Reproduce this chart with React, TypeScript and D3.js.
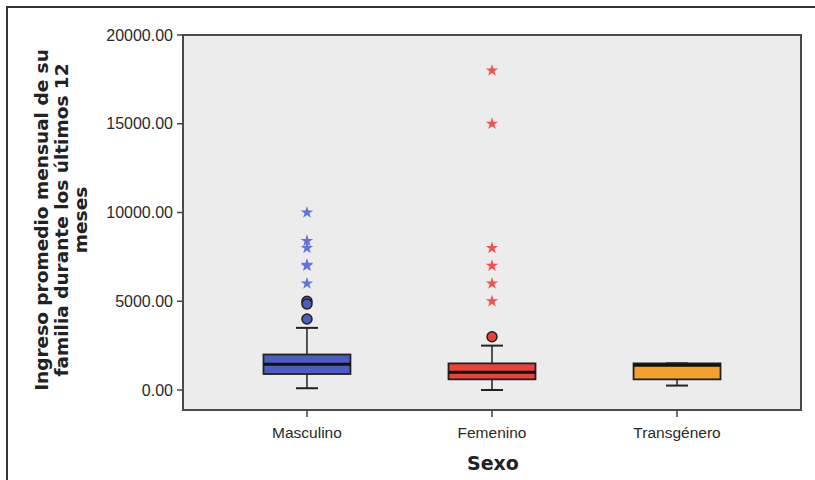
import React from "react";
import * as d3 from "d3";

const categories = ["Masculino", "Femenino", "Transgénero"];
const q1 = [900, 600, 600];
const median = [1450, 1000, 1400];
const q3 = [2000, 1500, 1500];
const whiskerLow = [100, 0, 250];
const whiskerHigh = [3500, 2500, 1500];
const circleOutliers = [[5000, 4850, 4000], [3000], []];
const starOutliers = [[10000, 8400, 8000, 7000, 7050, 6000], [18000, 15000, 8000, 7000, 6000, 5000], []];
const boxColors = ["#4d5cbf", "#e8423a", "#f4a030"];
const starColors = ["#6074d6", "#f05252", "#f4a030"];
const yTicks = [0, 5000, 10000, 15000, 20000];

const W = 815, H = 480;
const left = 183, right = 801, top = 35, bottom = 410;

export default function App() {
  const y = d3.scaleLinear().domain([0, 20000]).range([390, 35]);
  const x = d3.scalePoint<string>().domain(categories).range([left, right]).padding(0.67);
  const step = x.step();
  const bw = step * 0.47;
  const capW = 22;
  const star = d3.symbol().type(d3.symbolStar).size(48)()!;
  const tickFont = "'Liberation Sans', Arial, sans-serif";
  return (
    <svg width={W} height={H} style={{ position: "absolute", left: 0, top: 0, background: "#fff" }}>
      <path d={`M7,${H + 5} L7,7 L${W + 5},7`} fill="none" stroke="#333" strokeWidth={2} />
      <rect x={left} y={top} width={right - left} height={bottom - top} fill="#ececec" stroke="#4a4a4a" strokeWidth={2} />
      {yTicks.map((t) => (
        <g key={t}>
          <line x1={left - 6} x2={left} y1={y(t)} y2={y(t)} stroke="#444" strokeWidth={1.5} />
          <text x={left - 10} y={y(t)} dy="0.35em" textAnchor="end" fontFamily={tickFont} fontSize={16} fill="#2a2a2a">
            {t.toFixed(2)}
          </text>
        </g>
      ))}
      {categories.map((c, i) => {
        const cx = x(c)!;
        return (
          <g key={c}>
            <line x1={cx} x2={cx} y1={bottom} y2={bottom + 7} stroke="#444" strokeWidth={1.5} />
            <text x={cx} y={bottom + 28} textAnchor="middle" fontFamily={tickFont} fontSize={15.5} fill="#2a2a2a">
              {c}
            </text>
            <line x1={cx} x2={cx} y1={y(whiskerHigh[i])} y2={y(q3[i])} stroke="#222" strokeWidth={1.5} />
            <line x1={cx} x2={cx} y1={y(q1[i])} y2={y(whiskerLow[i])} stroke="#222" strokeWidth={1.5} />
            <line x1={cx - capW / 2} x2={cx + capW / 2} y1={y(whiskerHigh[i])} y2={y(whiskerHigh[i])} stroke="#222" strokeWidth={2} />
            <line x1={cx - capW / 2} x2={cx + capW / 2} y1={y(whiskerLow[i])} y2={y(whiskerLow[i])} stroke="#222" strokeWidth={2} />
            <rect x={cx - bw / 2} y={y(q3[i])} width={bw} height={y(q1[i]) - y(q3[i])} fill={boxColors[i]} stroke="#222" strokeWidth={1.8} />
            <line x1={cx - bw / 2} x2={cx + bw / 2} y1={y(median[i])} y2={y(median[i])} stroke="#111" strokeWidth={3} />
            {circleOutliers[i].map((v, k) => (
              <circle key={k} cx={cx} cy={y(v)} r={5} fill={boxColors[i]} stroke="#222" strokeWidth={1.5} />
            ))}
            {starOutliers[i].map((v, k) => (
              <path key={k} d={star} transform={`translate(${cx},${y(v)})`} fill={starColors[i]} />
            ))}
          </g>
        );
      })}
      <text
        transform={`translate(0,220) rotate(-90)`}
        textAnchor="middle"
        fontFamily="'DejaVu Sans', sans-serif"
        fontWeight="bold"
        fontSize={18.5}
        fill="#222"
      >
        <tspan x={0} y={48}>Ingreso promedio mensual de su</tspan>
        <tspan x={0} y={67.5}>familia durante los últimos 12</tspan>
        <tspan x={0} y={87}>meses</tspan>
      </text>
      <text x={493} y={470} textAnchor="middle" fontFamily="'DejaVu Sans', sans-serif" fontWeight="bold" fontSize={19} fill="#222">
        Sexo
      </text>
    </svg>
  );
}
